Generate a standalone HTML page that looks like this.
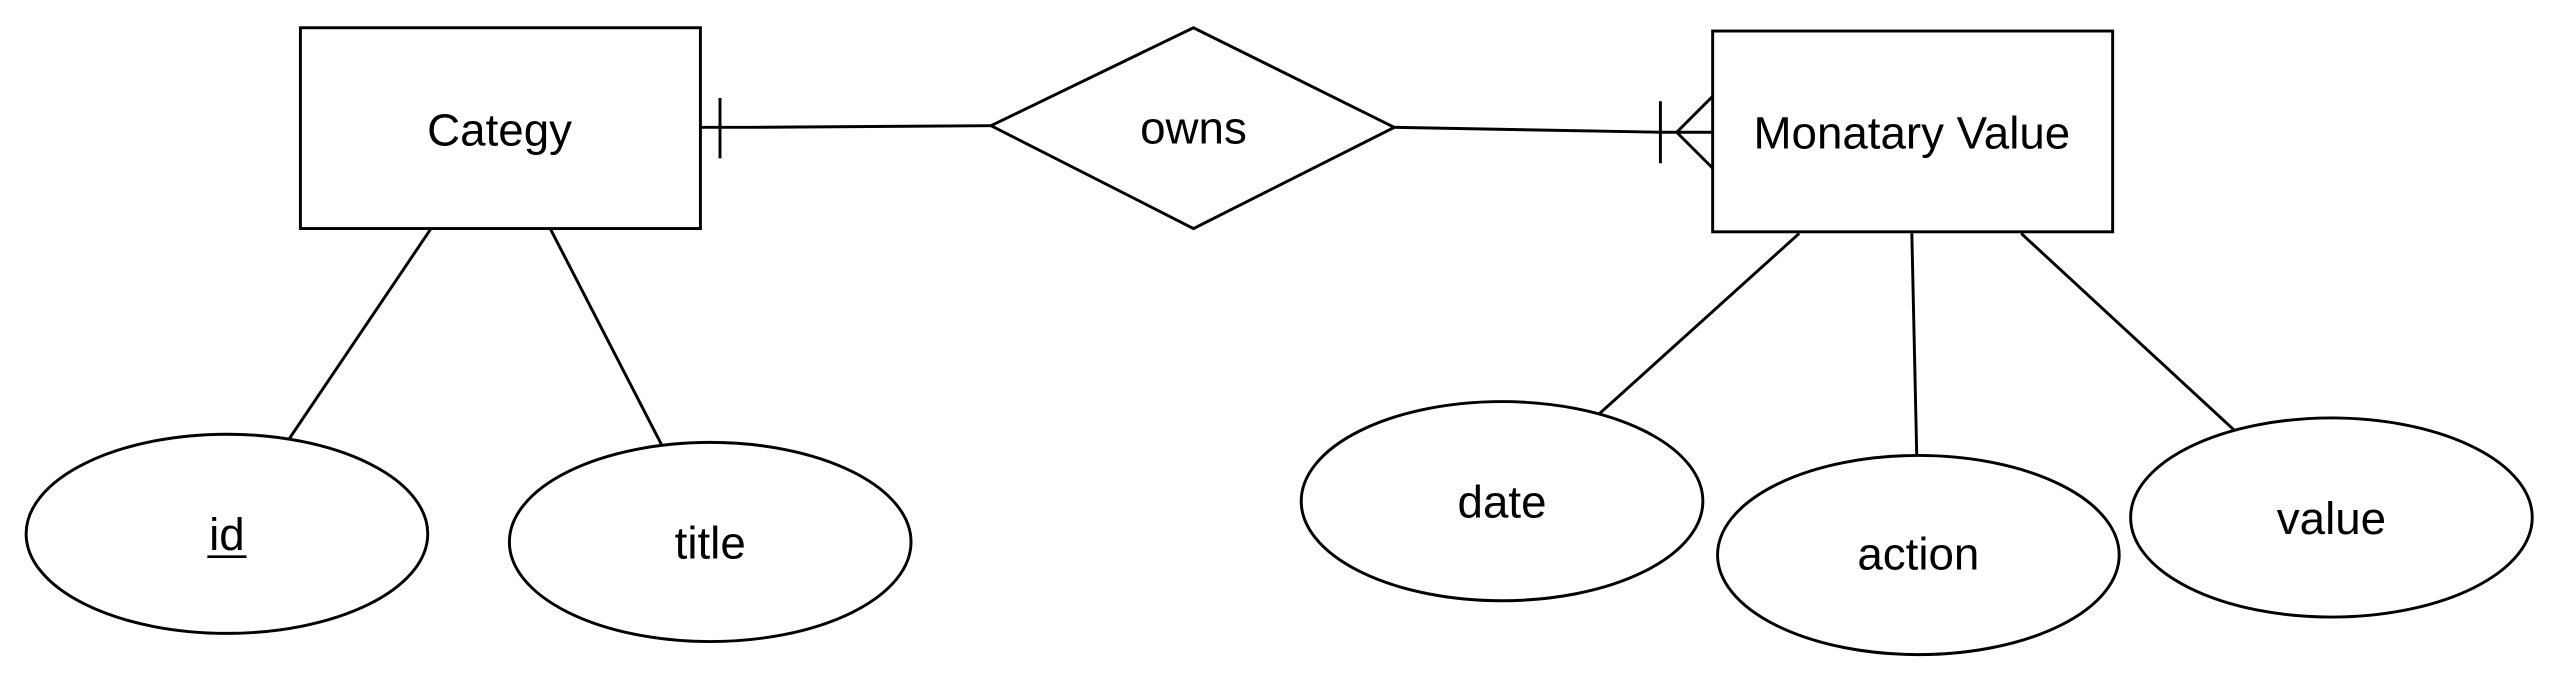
<!DOCTYPE html>
<html><head><style>html,body{margin:0;padding:0;background:#fff;}svg{display:block;}</style></head>
<body>
<svg width="2560" height="684" viewBox="0 0 1568 419" preserveAspectRatio="none" xmlns="http://www.w3.org/2000/svg">
<g fill="#fff" stroke="#000" stroke-width="1.8">
<rect x="184" y="17" width="245" height="123"/>
<polygon points="607,77 731,17 854,78 731,140"/>
<rect x="1049" y="19" width="245" height="123"/>
<ellipse cx="139" cy="327" rx="123" ry="61"/>
<ellipse cx="435" cy="332" rx="123" ry="61"/>
<ellipse cx="920" cy="307" rx="123" ry="61"/>
<ellipse cx="1175" cy="340" rx="123" ry="61"/>
<ellipse cx="1428" cy="317" rx="123" ry="61"/>
</g>
<g fill="none" stroke="#000" stroke-width="1.8">
<polyline points="429,78 462,78 607,77"/>
<line x1="441" y1="60" x2="441" y2="97"/>
<polyline points="854,78 1017,81 1049,81"/>
<line x1="1017" y1="62" x2="1017" y2="100"/>
<polyline points="1049,59 1027,81 1049,103"/>
<line x1="264" y1="140" x2="177" y2="269"/>
<line x1="337" y1="140" x2="405" y2="272"/>
<line x1="1102" y1="143" x2="979" y2="254"/>
<line x1="1171" y1="143" x2="1174" y2="279"/>
<line x1="1238" y1="143" x2="1369" y2="264"/>
</g>
<g font-family="Liberation Sans, sans-serif" font-size="28" text-anchor="middle" fill="#000">
<text x="306" y="89">Categy</text>
<text x="731" y="88">owns</text>
<text x="1171" y="91">Monatary Value</text>
<text x="139" y="337">id</text>
<text x="435" y="342">title</text>
<text x="920" y="317">date</text>
<text x="1175" y="349">action</text>
<text x="1428" y="327">value</text>
</g>
<line x1="127" y1="341" x2="151" y2="341" stroke="#000" stroke-width="1.6"/>
</svg>
</body></html>
